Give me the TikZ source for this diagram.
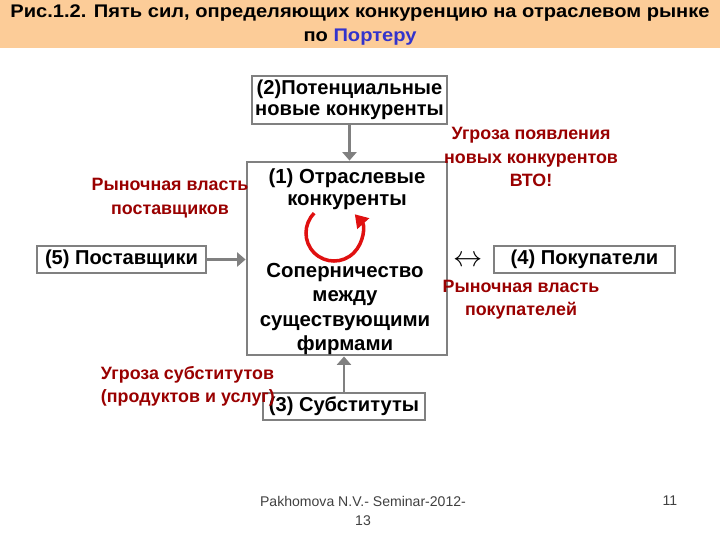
\documentclass[tikz,border=0pt]{standalone}
\usepackage{fontspec}
\setmainfont{Liberation Sans}
\newfontfamily\titlefont[FakeStretch=1.1]{Liberation Sans}
\usetikzlibrary{arrows.meta, positioning}

\definecolor{band}{HTML}{FCCC98}
\definecolor{darkred}{HTML}{990000}
\definecolor{porter}{HTML}{3333CC}
\definecolor{frame}{HTML}{808080}
\definecolor{rivalry}{HTML}{E01010}

\begin{document}
\begin{tikzpicture}[x=0.025cm,y=-0.025cm,
        box/.style={draw=frame, line width=2pt, fill=white, inner sep=1pt,
            align=center, font=\bfseries\fontsize{14.3}{15.2}\selectfont},
        boxtext/.style={align=center, font=\bfseries\fontsize{14.5}{17.2}\selectfont},
        remark/.style={align=center, text=darkred, font=\bfseries\fontsize{12.7}{16.6}\selectfont},
        force/.style={draw=frame, line width=2pt, -{Triangle[width=10pt,length=6pt]}},
        footer/.style={text=black!75, font=\fontsize{10}{14}\selectfont, align=center}]
        \useasboundingbox (0,0) rectangle (720,540);
        % title band
        \fill[band] (0,0) rectangle (720,48);
        \node[align=center, font=\titlefont\bfseries\fontsize{13}{16.5}\selectfont] (title) at (360,25)
            {Рис.1.2. Пять сил, определяющих конкуренцию на отраслевом рынке\\
             по \textcolor{porter}{Портеру}};

        % the five forces
        \node[box, minimum width=5cm, minimum height=4.825cm] (b_1) at (347,258.5) {};
        \node[box, minimum width=4.875cm, minimum height=1.2cm] (b_2) at (349.5,100)
            {(2)Потенциальные\\новые конкуренты};
        \node[box, minimum width=4.05cm, minimum height=0.675cm] (b_3) at (344,406.5) {(3) Субституты};
        \node[box, minimum width=4.525cm, minimum height=0.675cm] (b_4) at (584.5,259.5) {(4) Покупатели};
        \node[box, minimum width=4.225cm, minimum height=0.675cm] (b_5) at (121.5,259.5) {(5) Поставщики};

        \node[boxtext, font=\bfseries\fontsize{14.5}{15.6}\selectfont] (rivals) at (347,189) {(1) Отраслевые\\конкуренты};
        \node[boxtext] (rivalry) at (345,309) {Соперничество\\между\\существующими\\фирмами};

        % rivalry loop
        \coordinate (loop) at (334,233);
        \draw[rivalry, line width=2.5pt, -{Triangle[width=11pt,length=9pt]}]
            ([shift={(135:0.7cm)}]loop) arc[start angle=135, end angle=402, radius=0.7cm];

        \draw[force] (b_2.south) -- (b_2.south |- b_1.north);
        \draw[force] (b_5.east) -- (b_5.east -| b_1.west);
        \draw[force] (b_3.north) -- (b_3.north |- b_1.south);
        \node[font=\fontsize{20}{20}\selectfont] (both) at (468,261) {$\leftrightarrow$};

        % remarks
        \node[remark] (newthreat) at (531,157) {Угроза появления\\новых конкурентов\\ВТО!};
        \node[remark] (supplierpower) at (170,198) {Рыночная власть\\поставщиков};
        \node[remark] (buyerpower) at (521,300) {Рыночная власть\\покупателей};
        \node[remark, align=left, anchor=west] (subthreat) at (96,386) {Угроза субститутов\\(продуктов и услуг)};

        % footer
        \node[footer] (page) at (670,501) {11};
        \node[footer] (author) at (363,511) {Pakhomova N.V.- Seminar-2012-\\13};
    \end{tikzpicture}
\end{document}
